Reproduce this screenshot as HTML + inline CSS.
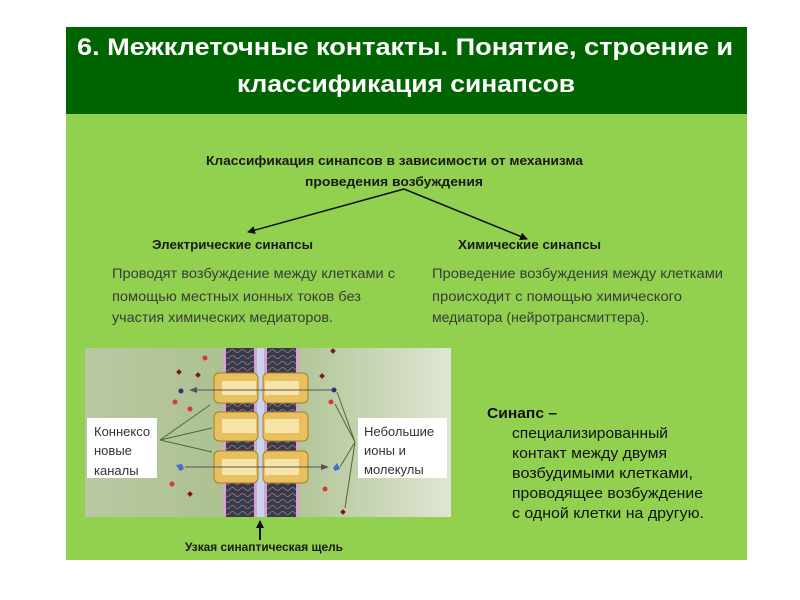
<!DOCTYPE html>
<html><head><meta charset="utf-8"><style>
html,body{margin:0;padding:0;background:#fff;}
svg{display:block;}
text{font-family:"Liberation Sans Narrow","Liberation Sans",sans-serif;}
</style></head><body>
<svg width="800" height="600" viewBox="0 0 800 600" xmlns="http://www.w3.org/2000/svg">
<defs>
<linearGradient id="bg" x1="0" x2="1" y1="0" y2="0">
<stop offset="0" stop-color="#b9c8a2"/><stop offset="0.5" stop-color="#a9bf8c"/><stop offset="1" stop-color="#dfe5d3"/>
</linearGradient>
<pattern id="mem" width="10" height="6" patternUnits="userSpaceOnUse">
<rect width="10" height="6" fill="#3c3a48"/><path d="M0 3 Q2.5 0 5 3 T10 3" stroke="#8a8898" stroke-width="0.8" fill="none"/>
</pattern>
<marker id="ah" markerWidth="8" markerHeight="8" refX="7" refY="4" orient="auto" markerUnits="userSpaceOnUse"><path d="M0 0 L8 4 L0 8 Z" fill="#111"/></marker>
<marker id="ag" markerWidth="8" markerHeight="8" refX="7" refY="4" orient="auto" markerUnits="userSpaceOnUse"><path d="M0 1 L8 4 L0 7 Z" fill="#555"/></marker>
</defs>
<rect x="66" y="27" width="681" height="87" fill="#006400"/>
<rect x="66" y="114" width="681" height="446" fill="#92d050"/>
<g fill="#fff" font-weight="bold" font-size="24" style="font-family:'Liberation Sans',sans-serif">
<text x="77" y="55" textLength="656" lengthAdjust="spacingAndGlyphs">6. Межклеточные контакты. Понятие, строение и</text>
<text x="237" y="92" textLength="338" lengthAdjust="spacingAndGlyphs">классификация синапсов</text>
</g>
<g fill="#1a1a1a" font-weight="bold" font-size="13">
<text x="206" y="165" textLength="377" lengthAdjust="spacingAndGlyphs">Классификация синапсов в зависимости от механизма</text>
<text x="305" y="186" textLength="178" lengthAdjust="spacingAndGlyphs">проведения возбуждения</text>
<text x="152" y="249" textLength="161" lengthAdjust="spacingAndGlyphs">Электрические синапсы</text>
<text x="458" y="249" textLength="143" lengthAdjust="spacingAndGlyphs">Химические синапсы</text>
</g>
<line x1="404" y1="189" x2="248" y2="232" stroke="#111" stroke-width="1.5" marker-end="url(#ah)"/>
<line x1="404" y1="189" x2="527" y2="239" stroke="#111" stroke-width="1.5" marker-end="url(#ah)"/>
<g fill="#3a3a3a" font-size="14">
<text x="112" y="278" textLength="283" lengthAdjust="spacingAndGlyphs">Проводят возбуждение между клетками с</text>
<text x="112" y="301" textLength="249" lengthAdjust="spacingAndGlyphs">помощью местных ионных токов без</text>
<text x="112" y="322" textLength="221" lengthAdjust="spacingAndGlyphs">участия химических медиаторов.</text>
<text x="432" y="278" textLength="291" lengthAdjust="spacingAndGlyphs">Проведение возбуждения между клетками</text>
<text x="432" y="301" textLength="250" lengthAdjust="spacingAndGlyphs">происходит с помощью химического</text>
<text x="432" y="322" textLength="217" lengthAdjust="spacingAndGlyphs">медиатора (нейротрансмиттера).</text>
</g>
<g fill="#111" font-size="15" style="font-family:'Liberation Sans',sans-serif">
<text x="487" y="418" font-weight="bold" textLength="70" lengthAdjust="spacingAndGlyphs">Синапс –</text>
<text x="512" y="438" textLength="156" lengthAdjust="spacingAndGlyphs">специализированный</text>
<text x="512" y="458" textLength="155" lengthAdjust="spacingAndGlyphs">контакт между двумя</text>
<text x="512" y="478" textLength="181" lengthAdjust="spacingAndGlyphs">возбудимыми клетками,</text>
<text x="512" y="498" textLength="191" lengthAdjust="spacingAndGlyphs">проводящее возбуждение</text>
<text x="512" y="518" textLength="192" lengthAdjust="spacingAndGlyphs">с одной клетки на другую.</text>
</g>
<!-- diagram -->
<rect x="85" y="348" width="366" height="169" fill="url(#bg)"/>
<rect x="223" y="348" width="35" height="169" fill="url(#mem)"/>
<rect x="263" y="348" width="36" height="169" fill="url(#mem)"/>
<rect x="257" y="348" width="7" height="169" fill="#c6d6ec"/>
<g fill="#d9a0d8">
<rect x="223" y="348" width="3" height="169"/><rect x="254" y="348" width="3" height="169"/>
<rect x="264" y="348" width="3" height="169"/><rect x="296" y="348" width="3" height="169"/>
</g>
<g fill="#e8c060" stroke="#a88020" stroke-width="1">
<rect x="214" y="373" width="44" height="30" rx="5"/><rect x="263" y="373" width="45" height="30" rx="5"/>
<rect x="214" y="412" width="44" height="29" rx="5"/><rect x="263" y="412" width="45" height="29" rx="5"/>
<rect x="214" y="451" width="44" height="32" rx="5"/><rect x="263" y="451" width="45" height="32" rx="5"/>
</g>
<g fill="#f6e4a8">
<rect x="222" y="381" width="34" height="14"/><rect x="265" y="381" width="34" height="14"/>
<rect x="222" y="419" width="34" height="14"/><rect x="265" y="419" width="34" height="14"/>
<rect x="222" y="459" width="34" height="16"/><rect x="265" y="459" width="34" height="16"/>
</g>
<line x1="333" y1="390" x2="190" y2="390" stroke="#555" stroke-width="1" marker-end="url(#ag)"/>
<line x1="185" y1="467" x2="328" y2="467" stroke="#555" stroke-width="1" marker-end="url(#ag)"/>
<g fill="#d83838">
<circle cx="205" cy="358" r="2.5"/><circle cx="175" cy="402" r="2.5"/><circle cx="190" cy="409" r="2.5"/>
<circle cx="172" cy="484" r="2.5"/><circle cx="331" cy="402" r="2.5"/><circle cx="325" cy="489" r="2.5"/>
</g>
<g fill="#7a1818">
<rect x="177" y="370" width="4" height="4" transform="rotate(45 179 372)"/>
<rect x="196" y="373" width="4" height="4" transform="rotate(45 198 375)"/>
<rect x="188" y="492" width="4" height="4" transform="rotate(45 190 494)"/>
<rect x="320" y="374" width="4" height="4" transform="rotate(45 322 376)"/>
<rect x="331" y="349" width="4" height="4" transform="rotate(45 333 351)"/>
<rect x="341" y="510" width="4" height="4" transform="rotate(45 343 512)"/>
</g>
<circle cx="181" cy="391" r="2.5" fill="#3a2a7a"/><circle cx="334" cy="390" r="2.5" fill="#3a2a7a"/>
<path d="M176 465 l6 -1 l2 5 l-4 2 z" fill="#4a6ad0"/><path d="M333 468 l4 -5 l3 6 l-5 2 z" fill="#4a6ad0"/>
<g stroke="#4a6a3a" stroke-width="1" fill="none">
<path d="M160 440 L210 405 M160 440 L212 428 M160 440 L212 452"/>
<path d="M355 442 L337 392 M355 442 L335 404 M355 442 L340 467 M355 442 L345 508"/>
</g>
<rect x="87" y="418" width="70" height="60" fill="#fff"/>
<rect x="358" y="418" width="89" height="60" fill="#fff"/>
<g fill="#333" font-size="13" style="font-family:'Liberation Sans',sans-serif">
<text x="94" y="436">Коннексо</text><text x="94" y="455">новые</text><text x="94" y="475">каналы</text>
<text x="364" y="436">Небольшие</text><text x="364" y="455">ионы и</text><text x="364" y="474">молекулы</text>
</g>
<line x1="260" y1="540" x2="260" y2="521" stroke="#111" stroke-width="2" marker-end="url(#ah)"/>
<text x="185" y="551" fill="#1a1a1a" font-size="12" font-weight="bold" textLength="158" lengthAdjust="spacingAndGlyphs">Узкая синаптическая щель</text>
</svg>
</body></html>
